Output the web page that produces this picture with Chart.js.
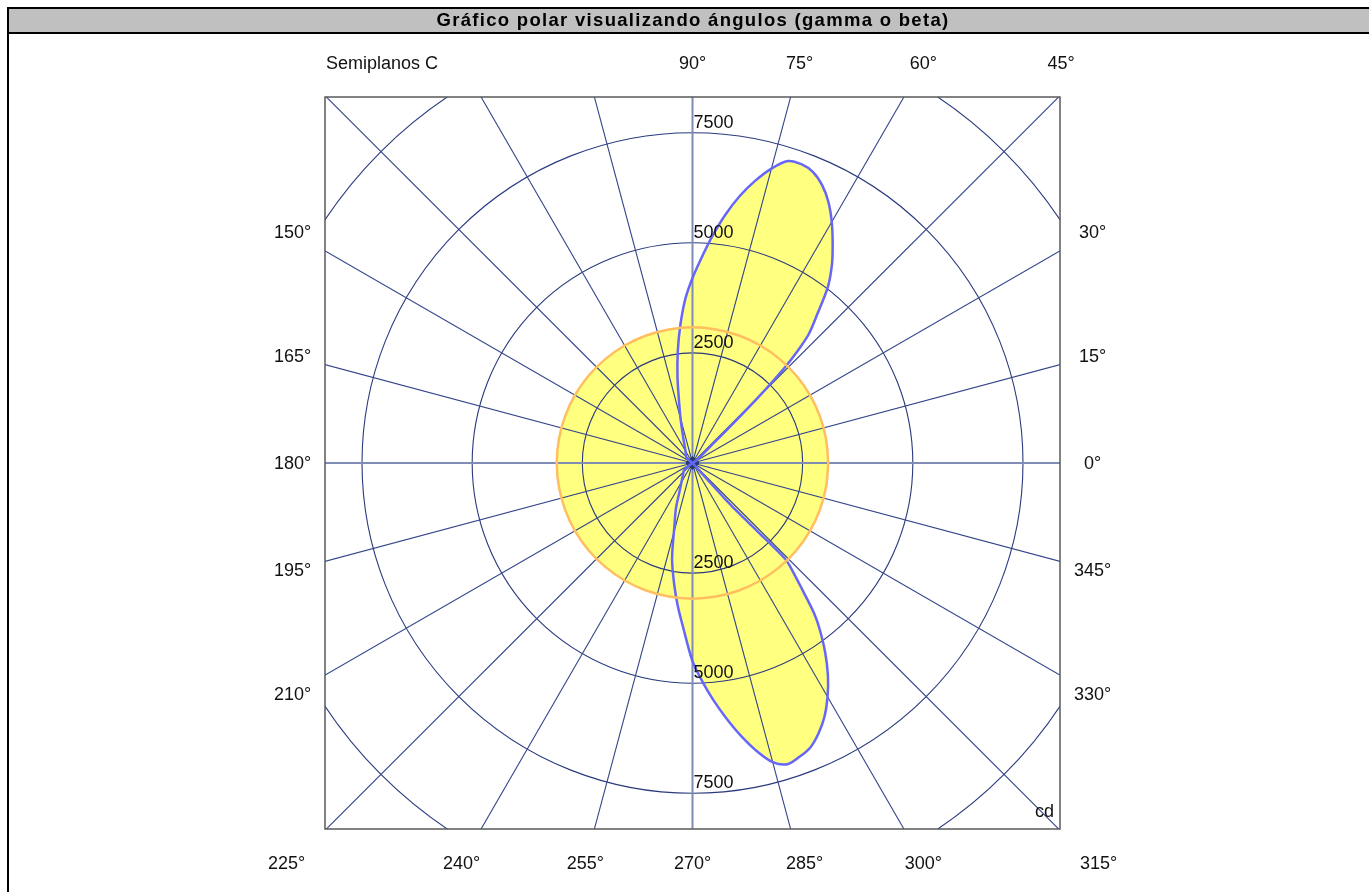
<!DOCTYPE html>
<html>
<head>
<meta charset="utf-8">
<script src="https://cdn.jsdelivr.net/npm/chart.js@4.4.1/dist/chart.umd.min.js"></script>
<style>
  html, body { margin:0; padding:0; background:#ffffff; width:1369px; height:892px; overflow:hidden; }
  #frameLeft { position:absolute; left:7px; top:7px; width:2px; height:885px; background:#000; }
  #titleBar { position:absolute; left:7px; top:7px; width:1400px; height:23px; background:#c0c0c0;
              border-top:2px solid #000; border-bottom:2px solid #000; }
  #titleText { position:absolute; left:0; top:9px; width:1386px; height:23px; line-height:23px; text-align:center;
               font:bold 18.5px "Liberation Sans", Arial, sans-serif; letter-spacing:1.3px; color:#000; white-space:nowrap; }
  #chartBox { position:absolute; left:0; top:0; width:1369px; height:892px; }
</style>
</head>
<body>
<div id="chartBox"><canvas id="c" width="1369" height="892"></canvas></div>
<div id="titleBar"></div>
<div id="frameLeft"></div>
<div id="titleText">Gráfico polar visualizando ángulos (gamma o beta)</div>
<script>
// ---------- DATA (angles in degrees, intensities in cd) ----------
const upperAngles = [30, 35, 40, 43, 44, 45, 46, 47, 48, 50, 52.5, 55, 57.5, 60, 62.5, 65, 67.5, 70, 72.5, 75, 77.5, 80, 82.5, 85, 87.5, 90, 92.5, 95, 97.5, 100, 102.5, 105, 110, 115, 120, 130, 140, 150];
const upperValues = [0, 150, 260, 600, 1100, 2100, 3000, 3550, 3950, 4400, 5050, 5520, 5920, 6320, 6680, 6960, 7150, 7220, 7190, 6920, 6560, 6150, 5680, 5170, 4660, 4200, 3730, 3150, 2560, 1960, 1400, 1050, 620, 420, 320, 230, 180, 0];

const lowerAngles = [210, 219, 230, 240, 246, 250, 254, 258, 261.5, 264, 266.5, 270, 272.5, 275, 277.5, 280, 282.5, 285, 287.5, 290, 292.5, 295, 297.5, 300, 302.5, 305, 307.5, 309, 311, 313, 314, 313.6, 312.8, 312.2, 312, 312];
const lowerValues = [0, 240, 330, 500, 740, 1100, 1490, 2230, 2800, 3240, 3690, 4500, 4950, 5400, 5840, 6280, 6690, 7030, 7170, 7100, 6990, 6770, 6490, 6130, 5720, 5250, 4730, 4380, 3780, 3300, 3030, 2180, 1600, 1120, 500, 0];

const ringAngles = [0, 10, 20, 30, 40, 50, 60, 70, 80, 90, 100, 110, 120, 130, 140, 150, 160, 170, 180, 190, 200, 210, 220, 230, 240, 250, 260, 270, 280, 290, 300, 310, 320, 330, 340, 350, 360];
const ringValues = [3080, 3080, 3080, 3080, 3080, 3080, 3080, 3080, 3080, 3080, 3080, 3080, 3080, 3080, 3080, 3080, 3080, 3080, 3080, 3080, 3080, 3080, 3080, 3080, 3080, 3080, 3080, 3080, 3080, 3080, 3080, 3080, 3080, 3080, 3080, 3080, 3080];

// ---------- GRID / TICKS ----------
const gridLevels = [2500, 5000, 7500, 10000];
const levelLabels = ['2500', '5000', '7500'];
const spokeAngles = [0, 15, 30, 45, 60, 75, 90, 105, 120, 135, 150, 165, 180, 195, 210, 225, 240, 255, 270, 285, 300, 315, 330, 345];
const mainAxisAngles = [0, 90, 180, 270];
const degreeLabelAngles = [90, 75, 60, 45, 30, 15, 0, 345, 330, 315, 300, 285, 270, 255, 240, 225, 210, 195, 180, 165, 150];
const cornerTitle = 'Semiplanos C';
const unitLabel = 'cd';

const DEG = Math.PI / 180;
function toXY(angles, values) {
  return angles.map((a, i) => ({ x: values[i] * Math.cos(a * DEG), y: values[i] * Math.sin(a * DEG) }));
}

const FONT = '"Liberation Sans", Arial, sans-serif';
const YELLOW = '#ffff80';
const BLUE = '#6666f8';

const polarGrid = {
  id: 'polarGrid',
  beforeDatasetsDraw(chart) {
    const { ctx, chartArea: a, scales: { x, y } } = chart;
    const cx = x.getPixelForValue(0), cy = y.getPixelForValue(0);
    ctx.save();
    ctx.beginPath();
    ctx.rect(a.left, a.top, a.right - a.left, a.bottom - a.top);
    ctx.clip();
    // circles
    ctx.strokeStyle = '#2a3a7e';
    ctx.lineWidth = 1.1;
    gridLevels.forEach(v => {
      const rx = x.getPixelForValue(v) - cx;
      const ry = cy - y.getPixelForValue(v);
      ctx.beginPath();
      ctx.ellipse(cx, cy, rx, ry, 0, 0, Math.PI * 2);
      ctx.stroke();
    });
    // spokes
    const far = 13000;
    spokeAngles.forEach(ang => {
      const main = mainAxisAngles.indexOf(ang) >= 0;
      ctx.strokeStyle = main ? '#7f8cb4' : '#34468a';
      ctx.lineWidth = main ? 2 : 1.1;
      ctx.beginPath();
      ctx.moveTo(cx, cy);
      ctx.lineTo(x.getPixelForValue(far * Math.cos(ang * DEG)), y.getPixelForValue(far * Math.sin(ang * DEG)));
      ctx.stroke();
    });
    ctx.restore();
  },
  afterDatasetsDraw(chart) {
    const { ctx, chartArea: a, scales: { x, y } } = chart;
    const cx = x.getPixelForValue(0), cy = y.getPixelForValue(0);
    ctx.save();
    // box border
    ctx.strokeStyle = '#5a5a5a';
    ctx.lineWidth = 1.5;
    ctx.strokeRect(a.left, a.top, a.right - a.left, a.bottom - a.top);
    ctx.fillStyle = '#111';
    ctx.font = '18px ' + FONT;
    // intensity labels along vertical axis
    ctx.textAlign = 'left';
    ctx.textBaseline = 'alphabetic';
    levelLabels.forEach(t => {
      const v = parseFloat(t);
      ctx.fillText(t, cx + 1, y.getPixelForValue(v) - 5);
      ctx.fillText(t, cx + 1, y.getPixelForValue(-v) - 5);
    });
    // degree labels around the box
    ctx.textAlign = 'center';
    ctx.textBaseline = 'middle';
    const L = 400;
    degreeLabelAngles.forEach(ang => {
      const c = Math.cos(ang * DEG), s = Math.sin(ang * DEG);
      const t = L / Math.max(Math.abs(c), Math.abs(s));
      let px = cx + c * t, py = cy - s * t;
      if (ang === 45) px = a.right + 1;
      if (ang === 225) px -= 6;
      if (ang === 315) px += 6;
      if (ang === 285) px += 5;
      ctx.fillText(ang + '°', px, py + 1);
    });
    ctx.textAlign = 'left';
    ctx.fillText(cornerTitle, a.left + 1, cy - L + 1);
    ctx.textAlign = 'right';
    ctx.textBaseline = 'alphabetic';
    ctx.fillText(unitLabel, a.right - 6, a.bottom - 12);
    ctx.restore();
  }
};

const lineBase = { showLine: true, pointRadius: 0, pointHoverRadius: 0, fill: 'shape', backgroundColor: YELLOW };

new Chart(document.getElementById('c'), {
  type: 'line',
  data: {
    datasets: [
      Object.assign({}, lineBase, { label: 'Anillo', data: toXY(ringAngles, ringValues), borderColor: '#ffbe60', borderWidth: 2.5, tension: 0.33 }),
      Object.assign({}, lineBase, { label: 'Lóbulo superior', data: toXY(upperAngles, upperValues), borderColor: BLUE, borderWidth: 2.5, tension: 0.3 }),
      Object.assign({}, lineBase, { label: 'Lóbulo inferior', data: toXY(lowerAngles, lowerValues), borderColor: BLUE, borderWidth: 2.5, tension: 0.3 }),
      { label: 'Centro', data: [{ x: 0, y: 0 }], showLine: false, fill: false, pointStyle: 'rectRot', pointRadius: 6.5, pointBackgroundColor: '#263a70', pointBorderColor: '#263a70', pointBorderWidth: 1 }
    ]
  },
  options: {
    responsive: false,
    animation: false,
    devicePixelRatio: 1,
    layout: { padding: { left: 325, right: 309, top: 97, bottom: 63 } },
    scales: {
      x: { type: 'linear', min: -8340, max: 8340, display: false },
      y: { type: 'linear', min: -8310, max: 8310, display: false }
    },
    plugins: {
      legend: { display: false },
      tooltip: { enabled: false },
      filler: { drawTime: 'beforeDatasetsDraw' }
    },
    elements: { line: { borderJoinStyle: 'round' } }
  },
  plugins: [polarGrid]
});
</script>
</body>
</html>
